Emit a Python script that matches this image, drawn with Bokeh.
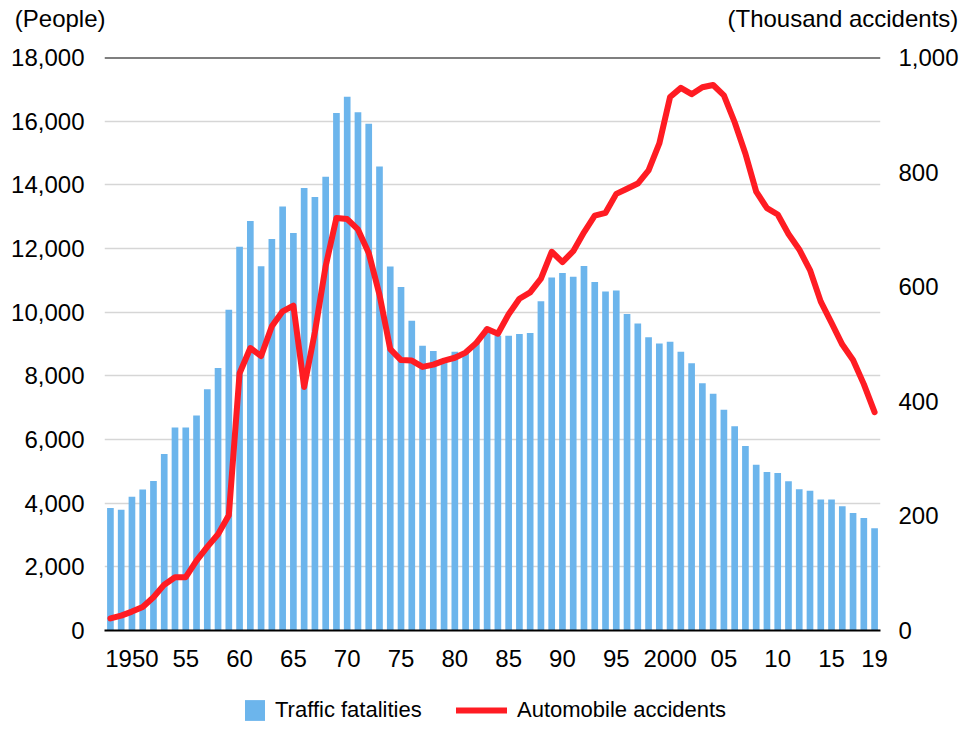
from bokeh.plotting import figure
from bokeh.layouts import column
from bokeh.models import (Range1d, LinearAxis, FixedTicker, NumeralTickFormatter,
                          Legend, LegendItem, Span, ColumnDataSource)
from bokeh.embed import file_html
from bokeh.resources import INLINE

years = list(range(1948, 2020))
fatalities = [3848, 3790, 4202, 4429, 4696, 5544, 6374, 6379, 6751, 7575,
              8248, 10079, 12055, 12865, 11445, 12301, 13318, 12484, 13904, 13618,
              14256, 16257, 16765, 16278, 15918, 14574, 11432, 10792, 9734, 8945,
              8783, 8466, 8760, 8719, 9073, 9520, 9262, 9261, 9317, 9347,
              10344, 11086, 11227, 11109, 11452, 10945, 10653, 10684, 9943, 9642,
              9214, 9012, 9073, 8757, 8396, 7768, 7436, 6937, 6415, 5796,
              5209, 4979, 4948, 4691, 4438, 4388, 4113, 4117, 3904, 3694,
              3532, 3215]
accidents = [21, 26, 33, 41, 58, 80, 93, 93, 122, 146,
             168, 201, 449, 493, 479, 531, 557, 567, 425, 521,
             636, 720, 718, 700, 659, 586, 491, 472, 471, 460,
             464, 471, 476, 485, 502, 526, 518, 552, 579, 590,
             614, 661, 643, 662, 695, 724, 729, 762, 771, 780,
             803, 850, 931, 947, 936, 948, 952, 934, 887, 832,
             766, 737, 726, 692, 665, 629, 574, 537, 499, 472,
             430, 381]
x_ticks = [1950, 1955, 1960, 1965, 1970, 1975, 1980, 1985, 1990, 1995,
           2000, 2005, 2010, 2015, 2019]
x_tick_labels = ["1950", "55", "60", "65", "70", "75", "80", "85", "90", "95",
                 "2000", "05", "10", "15", "19"]
left_ticks = [0, 2000, 4000, 6000, 8000, 10000, 12000, 14000, 16000, 18000]
right_ticks = [0, 200, 400, 600, 800, 1000]
left_unit = "(People)"
right_unit = "(Thousand accidents)"
series_names = ["Traffic fatalities", "Automobile accidents"]

FONT = "Liberation Sans"
BLUE = "#6cb5ec"
RED = "#ff1c23"
W = 961
BL, BR = 104, 73          # left / right borders of every strip (frame 104..888)
NAN = float("nan")

src = ColumnDataSource(dict(year=years, fat=fatalities, acc=accidents))


def plain_axis(ax, size="24px", standoff=0):
    ax.axis_line_color = None
    ax.major_tick_line_color = None
    ax.minor_tick_line_color = None
    ax.major_label_standoff = standoff
    ax.major_label_text_font = FONT
    ax.major_label_text_font_size = size
    ax.major_label_text_color = "black"
    return ax


# ---------- header strip: unit captions as labels of bare side axes ----------
HEAD_H = 40
CAP_Y = 22                # caption centre, measured up from the strip bottom
head = figure(width=W, height=HEAD_H, output_backend="svg", toolbar_location=None,
              x_range=Range1d(0, 1), y_range=Range1d(0, HEAD_H),
              min_border_left=BL, min_border_right=BR, min_border_top=0,
              min_border_bottom=0, x_axis_type=None, y_axis_type=None)
head.outline_line_color = None
head.xgrid.visible = False
head.ygrid.visible = False
head.add_layout(plain_axis(LinearAxis(ticker=FixedTicker(ticks=[CAP_Y]),
                                      major_label_overrides={CAP_Y: left_unit}),
                           standoff=-7), "left")
head.add_layout(plain_axis(LinearAxis(ticker=FixedTicker(ticks=[CAP_Y]),
                                      major_label_overrides={CAP_Y: right_unit}),
                           standoff=-159), "right")

# ---------- main chart ----------
X0, X1 = 1947.45, 2019.55
p = figure(width=W, height=639, output_backend="svg", toolbar_location=None,
           x_range=Range1d(X0, X1), y_range=Range1d(0, 18000),
           min_border_left=BL, min_border_right=BR, min_border_top=17,
           min_border_bottom=49)
p.outline_line_color = None
p.extra_y_ranges = {"acc": Range1d(0, 1000)}

p.vbar(x="year", top="fat", width=0.62, source=src, fill_color=BLUE, line_color=None)
p.line(x="year", y="acc", source=src, y_range_name="acc",
       line_color=RED, line_width=6, line_join="round", line_cap="round")

xa = plain_axis(p.xaxis[0], standoff=13)
xa.ticker = FixedTicker(ticks=x_ticks)
xa.major_label_overrides = {t: l for t, l in zip(x_ticks, x_tick_labels)}
xa.axis_line_color = "black"
xa.axis_line_width = 2

ya = plain_axis(p.yaxis[0], standoff=14)
ya.ticker = FixedTicker(ticks=left_ticks)
ya.formatter = NumeralTickFormatter(format="0,0")

ra = plain_axis(LinearAxis(y_range_name="acc", ticker=FixedTicker(ticks=right_ticks),
                           formatter=NumeralTickFormatter(format="0,0")), standoff=12)
p.add_layout(ra, "right")

p.xgrid.grid_line_color = None
p.ygrid.ticker = FixedTicker(ticks=left_ticks[1:-1])
p.ygrid.grid_line_color = "#d6d6d6"
p.ygrid.grid_line_width = 1.5
p.add_layout(Span(location=left_ticks[-1], dimension="width", line_color="black",
                  line_width=2))

# ---------- legend strip ----------
LEG_H = 44
lf = figure(width=W, height=LEG_H, output_backend="svg", toolbar_location=None,
            x_range=Range1d(0, 1), y_range=Range1d(0, 1),
            min_border_left=BL, min_border_right=BR, min_border_top=0,
            min_border_bottom=0, x_axis_type=None, y_axis_type=None)
lf.outline_line_color = None
lf.xgrid.visible = False
lf.ygrid.visible = False
bar_proxy = lf.vbar(x=[NAN], top=[NAN], width=0.5, fill_color=BLUE, line_color=None)
line_proxy = lf.line(x=[NAN, NAN], y=[NAN, NAN], line_color=RED, line_width=6,
                     line_cap="round")


def mk_legend(item, loc, gw, standoff):
    return Legend(items=[item], location=loc, orientation="horizontal",
                  glyph_width=gw, glyph_height=26, label_height=26,
                  label_standoff=standoff, padding=0, margin=0, spacing=0,
                  border_line_color=None, background_fill_alpha=0,
                  label_text_font=FONT, label_text_font_size="22px",
                  label_text_color="black")


lf.add_layout(mk_legend(LegendItem(label=series_names[0], renderers=[bar_proxy]),
                        (242 - BL, 0), 25, 8))
lf.add_layout(mk_legend(LegendItem(label=series_names[1], renderers=[line_proxy]),
                        (456 - BL, 0), 51, 10))

layout = column(head, p, lf, spacing=0)
open("out.html", "w").write(file_html(layout, INLINE))
